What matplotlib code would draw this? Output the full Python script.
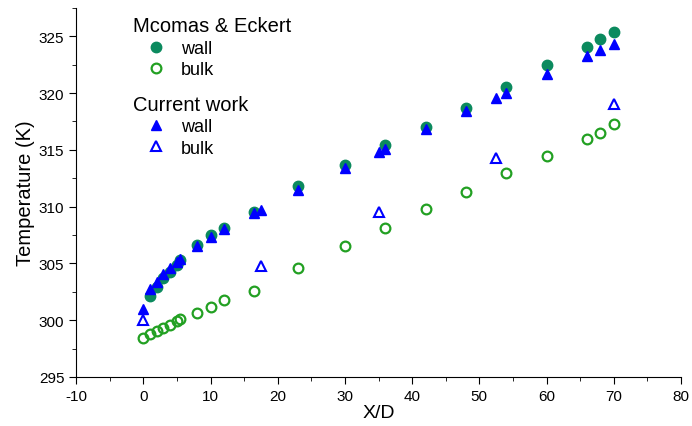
import matplotlib
matplotlib.use('Agg')
import matplotlib.pyplot as plt
from matplotlib.ticker import MultipleLocator
import numpy as np

plt.rcParams['font.family'] = ['Liberation Sans', 'DejaVu Sans']
plt.rcParams['axes.unicode_minus'] = False

# Mcomas & Eckert data
me_x_wall = [1, 2, 3, 4, 5, 5.5, 8, 10, 12, 16.5, 23, 30, 36, 42, 48, 54, 60, 66, 68, 70]
me_t_wall = [302.1, 302.9, 303.7, 304.2, 304.9, 305.3, 306.6, 307.5, 308.15, 309.5,
             311.8, 313.7, 315.4, 317.0, 318.7, 320.5, 322.5, 324.05, 324.8, 325.35]
me_x_bulk = [0, 1, 2, 3, 4, 5, 5.5, 8, 10, 12, 16.5, 23, 30, 36, 42, 48, 54, 60, 66, 68, 70]
me_t_bulk = [298.45, 298.75, 299.0, 299.3, 299.6, 299.9, 300.1, 300.65, 301.2, 301.75, 302.6,
             304.55, 306.5, 308.15, 309.8, 311.3, 313.0, 314.5, 316.0, 316.5, 317.3]

# current work data
cw_x_wall = [0, 1, 2, 3, 4, 5, 5.5, 8, 10, 12, 16.5, 17.5, 23, 30, 35, 36, 42, 48, 52.5, 54, 60, 66, 68, 70]
cw_t_wall = [300.95, 302.75, 303.35, 304.1, 304.6, 305.1, 305.4, 306.5, 307.3, 308.05, 309.4, 309.7,
             311.45, 313.4, 314.85, 315.1, 316.8, 318.4, 319.6, 320.0, 321.65, 323.3, 323.8, 324.35]
cw_x_bulk = [0, 17.5, 35, 52.5, 70]
cw_t_bulk = [300.05, 304.75, 309.5, 314.3, 319.0]

green_fill = '#0b8a5e'
green_open = '#22a022'
blue = '#0000ff'

fig = plt.figure(figsize=(6.92, 4.27), dpi=100)
ax = fig.add_axes([0.110, 0.115, 0.874, 0.864])

h1, = ax.plot(me_x_wall, me_t_wall, 'o', color=green_fill, ms=7.5, mec=green_fill, ls='none')
h2, = ax.plot(me_x_bulk, me_t_bulk, 'o', mfc='none', mec=green_open, ms=7, mew=1.6, ls='none')
h3, = ax.plot(cw_x_wall, cw_t_wall, '^', color=blue, ms=7.5, ls='none')
h4, = ax.plot(cw_x_bulk, cw_t_bulk, '^', mfc='none', mec=blue, ms=7.5, mew=1.5, ls='none')

ax.set_xlim(-10, 80)
ax.set_ylim(295, 327.5)
ax.xaxis.set_major_locator(MultipleLocator(10))
ax.xaxis.set_minor_locator(MultipleLocator(5))
ax.yaxis.set_major_locator(MultipleLocator(5))
ax.yaxis.set_minor_locator(MultipleLocator(2.5))
ax.spines['top'].set_visible(False)
ax.spines['right'].set_visible(False)
ax.tick_params(which='major', length=5, labelsize=11)
ax.tick_params(which='minor', length=3)
ax.set_xlabel('X/D', fontsize=14, labelpad=1)
ax.set_ylabel('Temperature (K)', fontsize=14.5, labelpad=3)

leg_kw = dict(loc='upper left', frameon=False, fontsize=13, title_fontsize=14.5,
              alignment='left', handlelength=2.5, handletextpad=0.15,
              labelspacing=0.25, borderaxespad=0, borderpad=0)
leg1 = ax.legend([h1, h2], ['wall', 'bulk'], title='Mcomas & Eckert',
                 bbox_to_anchor=(0.094, 0.977), **leg_kw)
ax.add_artist(leg1)
ax.legend([h3, h4], ['wall', 'bulk'], title='Current work',
          bbox_to_anchor=(0.094, 0.765), **leg_kw)

fig.savefig('out.png', dpi=100)
